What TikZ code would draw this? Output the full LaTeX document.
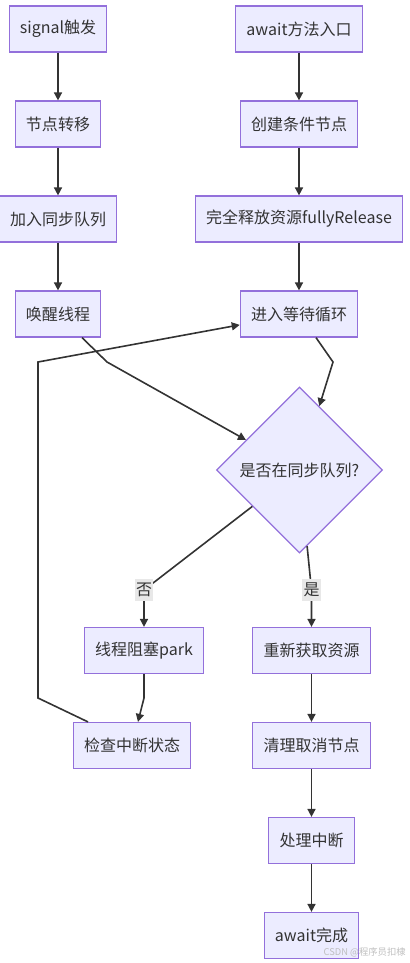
\documentclass[tikz,border=0pt]{standalone}
\usepackage{fontspec}
\setmainfont{Noto Sans CJK SC}
\usetikzlibrary{calc,arrows.meta,shapes.geometric}
\definecolor{boxfill}{HTML}{ECECFF}
\definecolor{boxline}{HTML}{9370DB}
\definecolor{wirecol}{HTML}{333333}
\definecolor{tagfill}{HTML}{E8E8E8}
\tikzset{
  box/.style={draw=boxline, fill=boxfill, line width=0.9pt, minimum height=34.5pt, inner xsep=8pt, inner ysep=0pt, text=wirecol},
  test/.style={diamond, draw=boxline, fill=boxfill, line width=0.9pt, minimum width=124.5pt, minimum height=124.5pt, inner sep=0pt, text=wirecol},
  link/.style={draw=wirecol, line width=1.2pt, -{Triangle[length=6pt,width=6pt]}},
  tag/.style={fill=tagfill, inner xsep=1pt, inner ysep=3pt, text=wirecol}
}
\begin{document}
\begin{tikzpicture}[x=0.75pt,y=-0.75pt,font=\fontsize{12}{14}\selectfont]
  \useasboundingbox (0,0) rectangle (410,963);
  % signal side
  \node[box] (sig)  at (58,29)  {signal触发};
  \node[box] (move) at (58,124) {节点转移};
  \node[box] (enq)  at (58,219) {加入同步队列};
  \node[box] (wake) at (58,314) {唤醒线程};
  % await side
  \node[box] (aw)   at (299,29)  {await方法入口};
  \node[box] (mk)   at (299,124) {创建条件节点};
  \node[box] (rel)  at (299,219) {完全释放资源fullyRelease};
  \node[box] (loop) at (299,314) {进入等待循环};
  \node[test] (chk) at (299.5,470) {是否在同步队列?};
  \node[box] (park)  at (144,650.5)   {线程阻塞park};
  \node[box] (intr)  at (132,745.5)   {检查中断状态};
  \node[box] (reacq) at (311.5,650.5) {重新获取资源};
  \node[box] (clean) at (311.5,745.5) {清理取消节点};
  \node[box] (hint)  at (311.5,840.5) {处理中断};
  \node[box] (done)  at (311.5,935.5) {await完成};

  \foreach \a/\b in {sig/move,move/enq,enq/wake,aw/mk,mk/rel,rel/loop,reacq/clean,clean/hint,hint/done}
    \draw[link] (\a) -- (\b);

  \draw[link] ($(wake.south)+(24,0)$) -- (107,362) -- (chk);
  \draw[link] ($(loop.south)+(17,0)$) -- (333,362) -- (chk);
  \draw[link] (chk) -- (144,590) node[tag] {否} -- (park);
  \draw[link] (chk) -- (311.5,590) node[tag] {是} -- (reacq);
  \draw[link] (park) -- (144,698) -- (intr);
  \draw[link] ($(intr.north)+(-44,0)$) -- (38,698) -- (38,362) -- (loop);

  \node[anchor=west, text=gray!50, font=\fontsize{7}{8}\selectfont] (mark) at (319,952) {CSDN @程序员扣棣};
\end{tikzpicture}
\end{document}
